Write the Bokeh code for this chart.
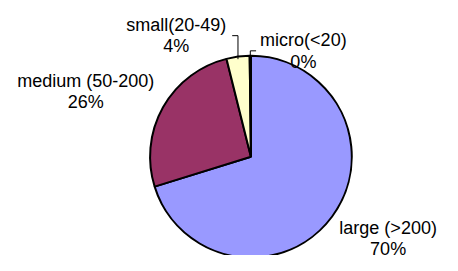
import math
from bokeh.plotting import figure
from bokeh.models import Range1d, ColumnDataSource
from bokeh.core.properties import value
from bokeh.embed import file_html
from bokeh.resources import INLINE

# ---- data ----
categories = ["large (>200)", "medium (50-200)", "small(20-49)", "micro(<20)"]
shares = [70.2, 25.9, 3.7, 0.2]
colors = ["#9999FF", "#993366", "#FFFFCC", "#CCFFFF"]

# ---- layout (reference pixel coords, y downward) ----
W, H = 458, 271
CX, CY, R = 259.5, 166.0, 104.5
label_offsets = [(58, 25), (-80, -18), (-64, -25), (55, -8)]   # block centre relative to slice edge point
leader = [False, False, True, True]
leader_half_w = [0, 0, 58, 49]
LINE_GAP = 23
FONT = "Liberation Sans"
FSIZE = "18px"

total = sum(shares)
starts, ends, mids = [], [], []
cum = 0.0
for v in shares:
    a0 = cum / total
    cum += v
    a1 = cum / total
    starts.append(math.pi / 2 - 2 * math.pi * a0)
    ends.append(math.pi / 2 - 2 * math.pi * a1)
    mids.append((a0 + a1) / 2)

p = figure(width=442, height=255, output_backend="svg", toolbar_location=None,
           x_axis_type=None, y_axis_type=None, min_border=0,
           x_range=Range1d(0, W), y_range=Range1d(-H, 0))
p.outline_line_color = None
p.grid.visible = False

src = ColumnDataSource(dict(start=starts, end=ends, color=colors))
p.wedge(x=CX, y=-CY, radius=R, start_angle="start", end_angle="end",
        direction="clock", fill_color="color", line_color="black",
        line_width=2, source=src)

names_x, names_y, pct_x, pct_y, names, pcts = [], [], [], [], [], []
lx, ly = [], []
for i, (cat, v) in enumerate(zip(categories, shares)):
    ang = mids[i] * 2 * math.pi
    ex = CX + R * math.sin(ang)
    ey = CY - R * math.cos(ang)
    bx = ex + label_offsets[i][0]
    by = ey + label_offsets[i][1]
    names.append(cat)
    pcts.append(f"{round(v / total * 100)}%")
    names_x.append(bx)
    names_y.append(-(by - LINE_GAP / 2))
    pct_x.append(bx)
    pct_y.append(-(by + LINE_GAP / 2))
    if leader[i]:
        side = -1 if bx > ex else 1
        endx = bx + side * leader_half_w[i]
        lx.append([ex, ex, endx])
        ly.append([-ey, -by, -by])

if lx:
    p.multi_line(xs=lx, ys=ly, line_color="black", line_width=1)

p.text(x=names_x, y=names_y, text=names, text_font=value(FONT), text_font_size=FSIZE,
       text_align="center", text_baseline="middle", text_color="black")
p.text(x=pct_x, y=pct_y, text=pcts, text_font=value(FONT), text_font_size=FSIZE,
       text_align="center", text_baseline="middle", text_color="black")

open("out.html", "w").write(file_html(p, INLINE))
